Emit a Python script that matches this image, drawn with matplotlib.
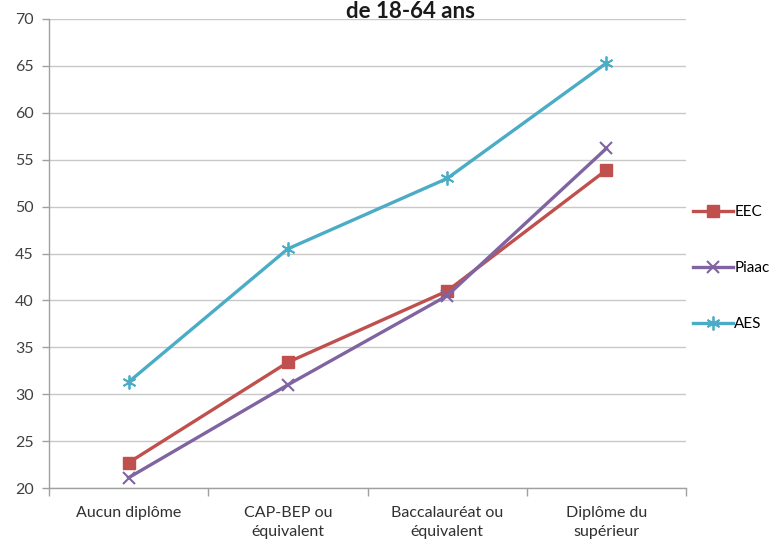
import matplotlib
matplotlib.use("Agg")
import matplotlib.pyplot as plt

categories = ["Aucun diplôme", "CAP-BEP ou\néquivalent", "Baccalauréat ou\néquivalent", "Diplôme du\nsupérieur"]
eec = [22.7, 33.4, 41.0, 53.9]
piaac = [21.1, 31.0, 40.5, 56.2]
aes = [31.3, 45.5, 53.0, 65.3]
yticks = [20, 25, 30, 35, 40, 45, 50, 55, 60, 65, 70]

plt.rcParams['font.family'] = ['Lato', 'DejaVu Sans']

fig = plt.figure(figsize=(7.78, 5.41), dpi=100)
ax = fig.add_axes([49/778, 1-488/541, (686-49)/778, (488-19)/541])

x = list(range(len(categories)))
ax.plot(x, eec, color='#C0504D', lw=2.4, marker='s', ms=8, label='EEC', zorder=3)
ax.plot(x, piaac, color='#8064A2', lw=2.4, marker='x', ms=9, mew=1.5, label='Piaac', zorder=3)
ax.plot(x, aes, color='#4BACC6', lw=2.4, marker=(6, 2, 0), ms=10, mew=1.3, mec='#4BACC6', label='AES', zorder=3)

ax.set_xlim(-0.5, len(categories) - 0.5)
ax.set_ylim(20, 70)
ax.set_yticks(yticks)
ax.set_yticklabels([str(v) for v in yticks], fontsize=11.5, color='#404040')
ax.yaxis.grid(True, color='#C8C8C8', lw=1)
ax.set_axisbelow(True)

ax.set_xticks(x)
ax.set_xticklabels(categories, fontsize=11.5, color='#303030', linespacing=1.45)
ax.tick_params(axis='x', length=0, pad=13)
ax.set_xticks([i - 0.5 for i in range(len(categories) + 1)], minor=True)
ax.tick_params(axis='x', which='minor', length=6, color='#A0A0A0', width=1)
ax.tick_params(axis='y', length=5, color='#A0A0A0', width=1, pad=6)

for s in ['top', 'right']:
    ax.spines[s].set_visible(False)
for s in ['left', 'bottom']:
    ax.spines[s].set_color('#A0A0A0')
    ax.spines[s].set_linewidth(1)

fig.text(410/778, 1 - 1/541, "de 18-64 ans", ha='center', va='top', fontsize=16, fontweight='bold', color='#1a1a1a')

handles, labels = ax.get_legend_handles_labels()
fig.legend(handles, labels, loc='center left', bbox_to_anchor=(684/778, 1-268/541),
           frameon=False, fontsize=11, handlelength=2.6, handletextpad=0.1, labelspacing=2.75,
           borderpad=0.2, borderaxespad=0.4)

fig.savefig('out.png', dpi=100)
